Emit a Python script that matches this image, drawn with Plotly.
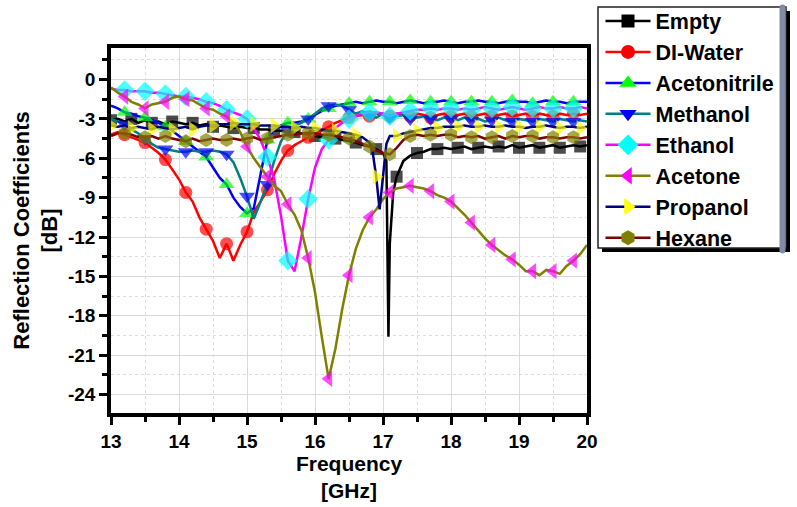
import numpy as np
import plotly.graph_objects as go

# ---------------- data ----------------
freq = [round(13.0 + 0.1 * i, 1) for i in range(71)]  # GHz grid 13.0 .. 20.0

empty_db = [-3.1, -3.0, -3.2, -3.0, -3.3, -3.1, -3.3, -3.2, -3.4, -3.2,
            -3.3, -3.4, -3.3, -3.5, -3.4, -3.6, -3.5, -3.6, -3.7, -3.6,
            -3.7, -3.7, -3.8, -3.8, -3.9, -3.9, -4.0, -4.0, -4.1, -4.2,
            -4.3, -4.4, -4.4, -4.5, -4.6, -4.7, -4.8, -5.0, -5.1, -5.3,
            -5.6, -12.5, -7.4, -6.2, -5.8, -5.6, -5.5, -5.3, -5.3, -5.2,
            -5.3, -5.2, -5.1, -5.3, -5.2, -5.1, -5.2, -5.1, -5.2, -5.0,
            -5.2, -5.1, -5.0, -5.2, -5.1, -5.0, -5.2, -5.1, -5.0, -5.1, -5.0]
empty_extra_f = [17.05, 17.08, 17.15]
empty_extra_db = [-6.2, -19.6, -8.6]

water_db = [-4.2, -4.0, -4.2, -4.4, -4.6, -4.8, -5.2, -5.6, -6.1, -6.9,
            -7.6, -8.6, -9.3, -10.5, -11.4, -12.3, -13.6, -12.5, -13.8, -12.6,
            -11.6, -10.1, -9.3, -8.4, -7.2, -6.2, -5.4, -5.0, -4.7, -4.4,
            -4.2, -3.9, -3.6, -3.3, -3.1, -2.9, -2.8, -2.7, -2.8, -2.6,
            -2.7, -2.8, -2.6, -2.7, -2.8, -2.6, -2.7, -2.9, -2.7, -2.6,
            -2.8, -2.7, -2.6, -2.8, -2.7, -2.6, -2.8, -2.7, -2.6, -2.8,
            -2.7, -2.6, -2.8, -2.6, -2.7, -2.8, -2.6, -2.7, -2.6, -2.7, -2.6]

acetonitrile_db = [-2.0, -2.2, -2.5, -2.6, -2.8, -2.9, -3.1, -3.3, -3.6, -3.9,
                   -4.3, -4.7, -5.1, -5.5, -5.9, -6.7, -7.5, -8.0, -9.0, -9.7,
                   -10.2, -9.8, -7.2, -4.6, -3.8, -3.5, -3.3, -3.3, -3.2, -3.0,
                   -2.7, -2.4, -2.2, -2.0, -1.9, -1.8, -1.7, -1.8, -1.7, -1.6,
                   -1.7, -1.7, -1.8, -1.7, -1.6, -1.7, -1.8, -1.7, -1.7, -1.6,
                   -1.7, -1.8, -1.7, -1.7, -1.6, -1.7, -1.7, -1.8, -1.7, -1.6,
                   -1.7, -1.7, -1.8, -1.7, -1.6, -1.7, -1.7, -1.8, -1.7, -1.7, -1.7]

methanol_db = [-3.0, -3.2, -3.4, -3.8, -4.1, -4.5, -4.9, -5.2, -5.3, -5.4,
               -5.5, -5.5, -5.4, -5.5, -5.5, -5.4, -5.5, -5.7, -6.3, -7.5,
               -8.9, -10.6, -9.3, -8.0, -6.2, -4.7, -3.9, -3.5, -3.3, -3.0,
               -2.6, -2.2, -2.0, -1.9, -2.0, -2.3, -2.6, -2.4, -2.7, -2.9,
               -2.6, -2.9, -2.8, -2.7, -3.0, -2.9, -2.8, -3.0, -3.1, -2.9,
               -3.0, -3.1, -2.9, -3.1, -3.0, -3.2, -3.1, -2.9, -3.1, -3.2,
               -3.0, -3.1, -3.2, -3.0, -3.1, -3.2, -3.0, -3.1, -3.2, -3.1, -3.2]

ethanol_db = [-0.7, -0.8, -0.8, -0.9, -0.9, -0.9, -1.0, -1.0, -1.1, -1.2,
              -1.3, -1.3, -1.4, -1.5, -1.7, -1.8, -2.0, -2.3, -2.5, -2.7,
              -3.0, -3.7, -4.6, -5.9, -7.6, -10.4, -13.8, -14.6, -12.0, -9.1,
              -6.7, -5.3, -4.6, -3.7, -3.3, -3.0, -2.8, -2.6, -2.5, -2.5,
              -2.6, -2.8, -2.6, -2.5, -2.4, -2.3, -2.3, -2.2, -2.3, -2.2,
              -2.2, -2.3, -2.2, -2.3, -2.2, -2.1, -2.2, -2.3, -2.2, -2.1,
              -2.2, -2.3, -2.2, -2.1, -2.2, -2.2, -2.1, -2.2, -2.2, -2.1, -2.2]

acetone_db = [-0.6, -1.0, -1.3, -1.7, -1.9, -2.2, -1.9, -1.8, -1.7, -1.4,
              -1.3, -1.5, -1.6, -1.9, -2.2, -2.3, -2.6, -2.8, -3.3, -4.0,
              -5.1, -6.0, -6.7, -7.4, -8.1, -8.5, -9.5, -10.3, -11.5, -13.6,
              -16.2, -19.6, -22.8, -20.5, -17.5, -14.9, -12.9, -11.5, -10.5, -9.9,
              -9.1, -8.6, -8.3, -8.2, -8.1, -8.2, -8.3, -8.5, -8.8, -9.0,
              -9.3, -9.8, -10.3, -10.9, -11.5, -12.1, -12.6, -13.0, -13.4, -13.7,
              -14.1, -14.6, -14.6, -14.9, -14.5, -14.6, -14.8, -14.2, -13.8, -13.3, -12.6]

propanol_db = [-3.5, -3.6, -3.5, -3.7, -3.6, -3.7, -3.8, -3.6, -3.7, -3.8,
               -3.7, -3.6, -3.8, -3.6, -3.5, -3.5, -3.4, -3.4, -3.3, -3.4,
               -3.4, -3.4, -3.5, -3.5, -3.5, -3.6, -3.6, -3.7, -3.6, -3.7,
               -3.7, -3.8, -3.9, -3.9, -4.0, -4.1, -4.2, -4.4, -4.8, -7.4,
               -7.6, -4.3, -4.3, -4.1, -4.0, -3.9, -3.8, -3.7, -3.7, -3.6,
               -3.6, -3.6, -3.5, -3.6, -3.6, -3.5, -3.6, -3.6, -3.5, -3.6,
               -3.6, -3.7, -3.6, -3.6, -3.5, -3.6, -3.7, -3.6, -3.6, -3.7, -3.6]
propanol_extra_f = [16.85, 16.95, 17.05]
propanol_extra_db = [-5.6, -9.9, -4.9]

hexane_db = [-4.3, -4.1, -4.1, -4.2, -4.4, -4.4, -4.3, -4.5, -4.3, -4.5,
             -4.6, -4.7, -4.5, -4.7, -4.6, -4.5, -4.6, -4.6, -4.5, -4.6,
             -4.5, -4.4, -4.6, -4.5, -4.4, -4.3, -4.2, -4.2, -4.1, -4.1,
             -4.1, -4.2, -4.2, -4.3, -4.4, -4.5, -4.7, -4.9, -5.1, -5.4,
             -5.6, -5.7, -5.2, -4.6, -4.3, -4.2, -4.3, -4.2, -4.3, -4.2,
             -4.2, -4.4, -4.3, -4.4, -4.3, -4.5, -4.4, -4.3, -4.5, -4.3,
             -4.4, -4.3, -4.3, -4.5, -4.4, -4.4, -4.5, -4.4, -4.4, -4.5, -4.4]

names = ["Empty", "DI-Water", "Acetonitrile", "Methanol",
         "Ethanol", "Acetone", "Propanol", "Hexane"]

x_tick_vals = [13, 14, 15, 16, 17, 18, 19, 20]
x_tick_text = ["13", "14", "15", "16", "17", "18", "19", "20"]
y_tick_vals = [0, -3, -6, -9, -12, -15, -18, -21, -24]
y_tick_text = ["0", "-3", "-6", "-9", "-12", "-15", "-18", "-21", "-24"]

# ---------------- styles ----------------
line_colors = ["#000000", "#FF0000", "#0000FF", "#008080",
               "#FF00FF", "#808000", "#000080", "#800000"]
marker_colors = ["#000000", "#FF0000", "#00FF00", "#0000FF",
                 "#00FFFF", "#FF00FF", "#FFFF00", "#808000"]
symbols = ["square", "circle", "triangle-up", "triangle-down",
           "diamond", "triangle-left", "triangle-right", "hexagon"]
msizes = [12, 13, 14, 14, 15, 14, 14, 14]
marker_offsets = [0.0, 0.2, 0.2, 0.2, 0.2, 0.2, 0.0, 0.2]


def merged(xs, ys, ex=None, ey=None):
    pts = list(zip(xs, ys))
    if ex:
        pts += list(zip(ex, ey))
    pts.sort()
    return [p[0] for p in pts], [p[1] for p in pts]


series = [
    merged(freq, empty_db, empty_extra_f, empty_extra_db),
    merged(freq, water_db),
    merged(freq, acetonitrile_db),
    merged(freq, methanol_db),
    merged(freq, ethanol_db),
    merged(freq, acetone_db),
    merged(freq, propanol_db, propanol_extra_f, propanol_extra_db),
    merged(freq, hexane_db),
]

fig = go.Figure()
for i, (xs, ys) in enumerate(series):
    sizes = []
    for x in xs:
        k = (x - 13.0 - marker_offsets[i]) / 0.3
        on = abs(k - round(k)) < 1e-6 and k >= -1e-6
        sizes.append(msizes[i] if on else 0)
    fig.add_trace(go.Scatter(
        x=xs, y=ys, mode="lines+markers", showlegend=False,
        line=dict(color=line_colors[i], width=2.5),
        marker=dict(color=marker_colors[i], symbol=symbols[i], size=sizes,
                    line=dict(width=0)),
        hoverinfo="skip"))

for i, nm in enumerate(names):
    fig.add_trace(go.Scatter(
        x=[None], y=[None], mode="lines+markers", name=nm,
        line=dict(color=line_colors[i], width=2.5),
        marker=dict(color=marker_colors[i], symbol=symbols[i], size=msizes[i] + 1,
                    line=dict(width=0))))

FONT = "Liberation Sans, Arial, sans-serif"
axis_common = dict(
    ticks="outside", ticklen=8, tickwidth=3, tickcolor="black",
    showline=True, linewidth=3.5, linecolor="black", mirror=True,
    showgrid=True, gridcolor="#d9d9d9", gridwidth=1, zeroline=False,
    automargin=False,
    tickfont=dict(family=FONT, size=19, color="black", weight="bold"),
)

fig.update_xaxes(
    range=[13, 20], tickmode="array", tickvals=x_tick_vals, ticktext=x_tick_text,
    minor=dict(dtick=0.5, tick0=13, ticks="outside", ticklen=5, tickwidth=3, tickcolor="black",
               showgrid=True, gridcolor="#dedede", griddash="dot", gridwidth=1),
    title=dict(text="Frequency<br>[GHz]", standoff=1,
               font=dict(family=FONT, size=21, color="black", weight="bold")),
    **axis_common)
fig.update_yaxes(
    range=[-25.4, 2.4], tickmode="array", tickvals=y_tick_vals, ticktext=y_tick_text,
    minor=dict(dtick=1.5, tick0=0, ticks="outside", ticklen=5, tickwidth=3, tickcolor="black",
               showgrid=True, gridcolor="#dedede", griddash="dot", gridwidth=1),
    title=dict(text="Reflection Coefficients<br>[dB]", standoff=5,
               font=dict(family=FONT, size=22, color="black", weight="bold")),
    **axis_common)

# legend frame + drop shadow, drawn as shapes (paper coords; plot box 111..587 x 48..413 px)
def px_x(p):
    return (p - 111.0) / 476.0


def px_y(p):
    return (413.0 - p) / 365.0


fig.add_shape(type="rect", xref="paper", yref="paper",
              x0=px_x(602), x1=px_x(790), y0=px_y(252), y1=px_y(11),
              fillcolor="black", line=dict(width=0), layer="above")
fig.add_shape(type="rect", xref="paper", yref="paper",
              x0=px_x(598), x1=px_x(786), y0=px_y(248), y1=px_y(7),
              fillcolor="white", line=dict(width=1.5, color="#222222"), layer="above")

fig.update_layout(
    width=797, height=507,
    margin=dict(l=111, r=210, t=48, b=94, autoexpand=False),
    paper_bgcolor="white", plot_bgcolor="white",
    font=dict(family=FONT, color="black"),
    legend=dict(x=px_x(600.5), y=px_y(0.5), xanchor="left", yanchor="top",
                bgcolor="rgba(0,0,0,0)", borderwidth=0,
                font=dict(family=FONT, size=21.5, color="black", weight="bold"),
                traceorder="normal", itemwidth=45),
)

fig.write_html("out.html", config={"displayModeBar": False},
               post_script="document.body.style.margin='0px';document.body.style.padding='0px';")
